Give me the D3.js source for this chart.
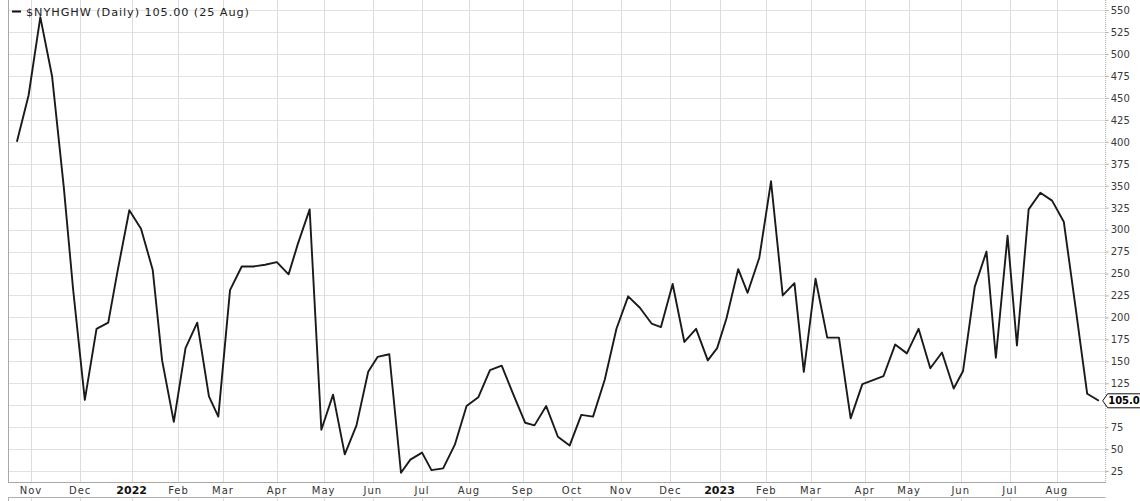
<!DOCTYPE html>
<html>
<head>
<meta charset="utf-8">
<script src="https://cdn.jsdelivr.net/npm/d3@7"></script>
<style>
html,body{margin:0;padding:0;background:#fff;}
svg{display:block;}
</style>
</head>
<body>
<svg id="chart" width="1140" height="501"></svg>
<script>
// ---- data (weekly closes, last trading day of each week) ----
const dates = [
"2021-10-22","2021-10-29","2021-11-05","2021-11-12","2021-11-19","2021-11-26","2021-12-03","2021-12-10","2021-12-17","2021-12-23","2021-12-31",
"2022-01-07","2022-01-14","2022-01-21","2022-01-28","2022-02-04","2022-02-11","2022-02-18","2022-02-25",
"2022-03-04","2022-03-11","2022-03-18","2022-03-25","2022-04-01","2022-04-08","2022-04-14","2022-04-22","2022-04-29",
"2022-05-06","2022-05-13","2022-05-20","2022-05-27","2022-06-03","2022-06-10","2022-06-17","2022-06-24",
"2022-07-01","2022-07-08","2022-07-15","2022-07-22","2022-07-29","2022-08-05","2022-08-12","2022-08-19","2022-08-26",
"2022-09-02","2022-09-09","2022-09-16","2022-09-23","2022-09-30","2022-10-07","2022-10-14","2022-10-21","2022-10-28",
"2022-11-04","2022-11-11","2022-11-18","2022-11-25","2022-12-02","2022-12-09","2022-12-16","2022-12-23","2022-12-30",
"2023-01-06","2023-01-13","2023-01-20","2023-01-27","2023-02-03","2023-02-10","2023-02-17","2023-02-24",
"2023-03-03","2023-03-10","2023-03-17","2023-03-24","2023-03-31","2023-04-06","2023-04-14","2023-04-21","2023-04-28",
"2023-05-05","2023-05-12","2023-05-19","2023-05-26","2023-06-02","2023-06-09","2023-06-16","2023-06-23","2023-06-30",
"2023-07-07","2023-07-14","2023-07-21","2023-07-28","2023-08-04","2023-08-11","2023-08-18","2023-08-25"
];
const values = [
400,453,542,475,349,232,106,187,194,253,322,
301,254,151,81,165,194,110,87,
231,258,258,260,263,249,284,323,72,
112,44,77,138,155,158,23,38,
46,26,28,55,99,109,140,145,112,
80,77,99,64,54,89,87,129,187,
224,211,193,189,238,172,187,151,165,
199,255,228,268,355,225,239,138,
244,177,177,85,124,128,133,169,159,
187,142,160,119,139,235,275,154,293,
168,323,342,333,309,212,113,105
];
const holidays = [
"2021-11-25","2021-12-24","2022-01-17","2022-02-21","2022-04-15","2022-05-30","2022-06-20","2022-07-04",
"2022-09-05","2022-11-24","2022-12-26","2023-01-02","2023-01-16","2023-02-20","2023-04-07","2023-05-29",
"2023-06-19","2023-07-04"
];
const monthStarts = ["2021-11","2021-12","2022-01","2022-02","2022-03","2022-04","2022-05","2022-06","2022-07","2022-08","2022-09","2022-10","2022-11","2022-12",
"2023-01","2023-02","2023-03","2023-04","2023-05","2023-06","2023-07","2023-08"];
const monthLabels = ["Nov","Dec","2022","Feb","Mar","Apr","May","Jun","Jul","Aug","Sep","Oct","Nov","Dec",
"2023","Feb","Mar","Apr","May","Jun","Jul","Aug"];
const yTicks = [25,50,75,100,125,150,175,200,225,250,275,300,325,350,375,400,425,450,475,500,525,550];
const yTickLabels = yTicks.map(String);
const legendText = "$NYHGHW (Daily) 105.00 (25 Aug)";
const lastLabel = "105.0";

// ---- helpers: trading-day index ----
const parse = d3.timeParse("%Y-%m-%d");
const fmt = d3.timeFormat("%Y-%m-%d");
const hol = new Set(holidays);
const isTrading = d => { const w = d.getDay(); return w !== 0 && w !== 6 && !hol.has(fmt(d)); };
const base = parse(dates[0]);
const tIndex = d => d3.timeDay.range(base, d).filter(isTrading).length;

const pts = dates.map((s, i) => ({ t: tIndex(parse(s)), v: values[i] }));
const lastT = pts[pts.length - 1].t;

const monthTicks = monthStarts.map((m, i) => {
  let d = parse(m + "-01");
  while (!isTrading(d)) d = d3.timeDay.offset(d, 1);
  return { t: tIndex(d), label: monthLabels[i], year: /^\d{4}$/.test(monthLabels[i]) };
});

// ---- layout ----
const L = 8, R = 1105.7, T = 0, B = 482;
const x = d3.scaleLinear().domain([-3.8, lastT + 2.9]).range([L, R]);
const y = d3.scaleLinear().domain([12.5, 561.5]).range([B, T]);

const svg = d3.select("#chart");
const FONT = "'DejaVu Sans', Verdana, sans-serif";
const ly = y(values[values.length - 1]);

// horizontal grid
svg.append("g").selectAll("line").data(yTicks).join("line")
  .attr("x1", L).attr("x2", R)
  .attr("y1", d => Math.round(y(d)) + 0.5).attr("y2", d => Math.round(y(d)) + 0.5)
  .attr("stroke", "#e2e2e2").attr("stroke-width", 1);

// vertical grid
svg.append("g").selectAll("line").data(monthTicks).join("line")
  .attr("x1", d => Math.round(x(d.t)) + 0.5).attr("x2", d => Math.round(x(d.t)) + 0.5)
  .attr("y1", T).attr("y2", B)
  .attr("stroke", "#dcdcdc").attr("stroke-width", 1);

// lower panel hint
svg.append("g").selectAll("line").data(monthTicks).join("line")
  .attr("x1", d => Math.round(x(d.t)) + 0.5).attr("x2", d => Math.round(x(d.t)) + 0.5)
  .attr("y1", 497).attr("y2", 501)
  .attr("stroke", "#dcdcdc");
svg.append("line").attr("x1", L).attr("x2", R).attr("y1", 497.5).attr("y2", 497.5).attr("stroke", "#b0b0b0");
svg.append("line").attr("x1", L + 0.5).attr("x2", L + 0.5).attr("y1", 497).attr("y2", 501).attr("stroke", "#b0b0b0");

// borders
svg.append("line").attr("x1", L + 0.5).attr("x2", L + 0.5).attr("y1", T).attr("y2", B).attr("stroke", "#a8a8a8");
svg.append("line").attr("x1", L).attr("x2", R).attr("y1", B + 0.5).attr("y2", B + 0.5).attr("stroke", "#a8a8a8");
svg.append("line").attr("x1", R).attr("x2", R).attr("y1", T).attr("y2", B + 1)
  .attr("stroke", "#a8a8a8").attr("stroke-dasharray", "1,1");

// right axis (labels hidden where the last-value callout sits)
const yAxis = d3.axisRight(y).tickValues(yTicks)
  .tickFormat((d, i) => Math.abs(y(d) - ly) < 12 ? "" : yTickLabels[i])
  .tickSize(3).tickPadding(2);
const ga = svg.append("g").attr("transform", `translate(${R},0)`).call(yAxis);
ga.select(".domain").remove();
ga.selectAll(".tick line").attr("stroke", "#b0b0b0");
ga.selectAll("text").attr("font-family", FONT).attr("font-size", 10).attr("fill", "#3a3a3a").attr("dy", "0.34em");

// month labels
svg.append("g").selectAll("text").data(monthTicks).join("text")
  .attr("x", d => x(d.t)).attr("y", 494)
  .attr("text-anchor", "middle")
  .attr("font-family", FONT)
  .attr("font-size", d => d.year ? 11 : 10)
  .attr("font-weight", d => d.year ? "bold" : "normal")
  .attr("letter-spacing", d => d.year ? 0 : 1)
  .attr("fill", d => d.year ? "#111" : "#333")
  .text(d => d.label);

// line
const line = d3.line().x(d => x(d.t)).y(d => y(d.v));
svg.append("path").datum(pts).attr("d", line)
  .attr("fill", "none").attr("stroke", "#1a1a1a").attr("stroke-width", 1.9).attr("stroke-linejoin", "round");

// last value callout
const lx = R - 3;
svg.append("path")
  .attr("d", `M${lx},${ly} L${lx + 5},${ly - 7} L1141,${ly - 7} L1141,${ly + 7} L${lx + 5},${ly + 7} Z`)
  .attr("fill", "#fff").attr("stroke", "#111").attr("stroke-width", 1);
svg.append("text").attr("x", lx + 5.5).attr("y", ly).attr("dy", "0.36em")
  .attr("font-family", FONT).attr("font-size", 10).attr("font-weight", "bold").attr("fill", "#000")
  .text(lastLabel);

// legend
svg.append("line").attr("x1", 12).attr("x2", 21).attr("y1", 11.5).attr("y2", 11.5).attr("stroke", "#111").attr("stroke-width", 2);
svg.append("text").attr("x", 26).attr("y", 16)
  .attr("font-family", FONT).attr("font-size", 11.3).attr("letter-spacing", 0.9).attr("fill", "#222")
  .text(legendText);
</script>
</body>
</html>
